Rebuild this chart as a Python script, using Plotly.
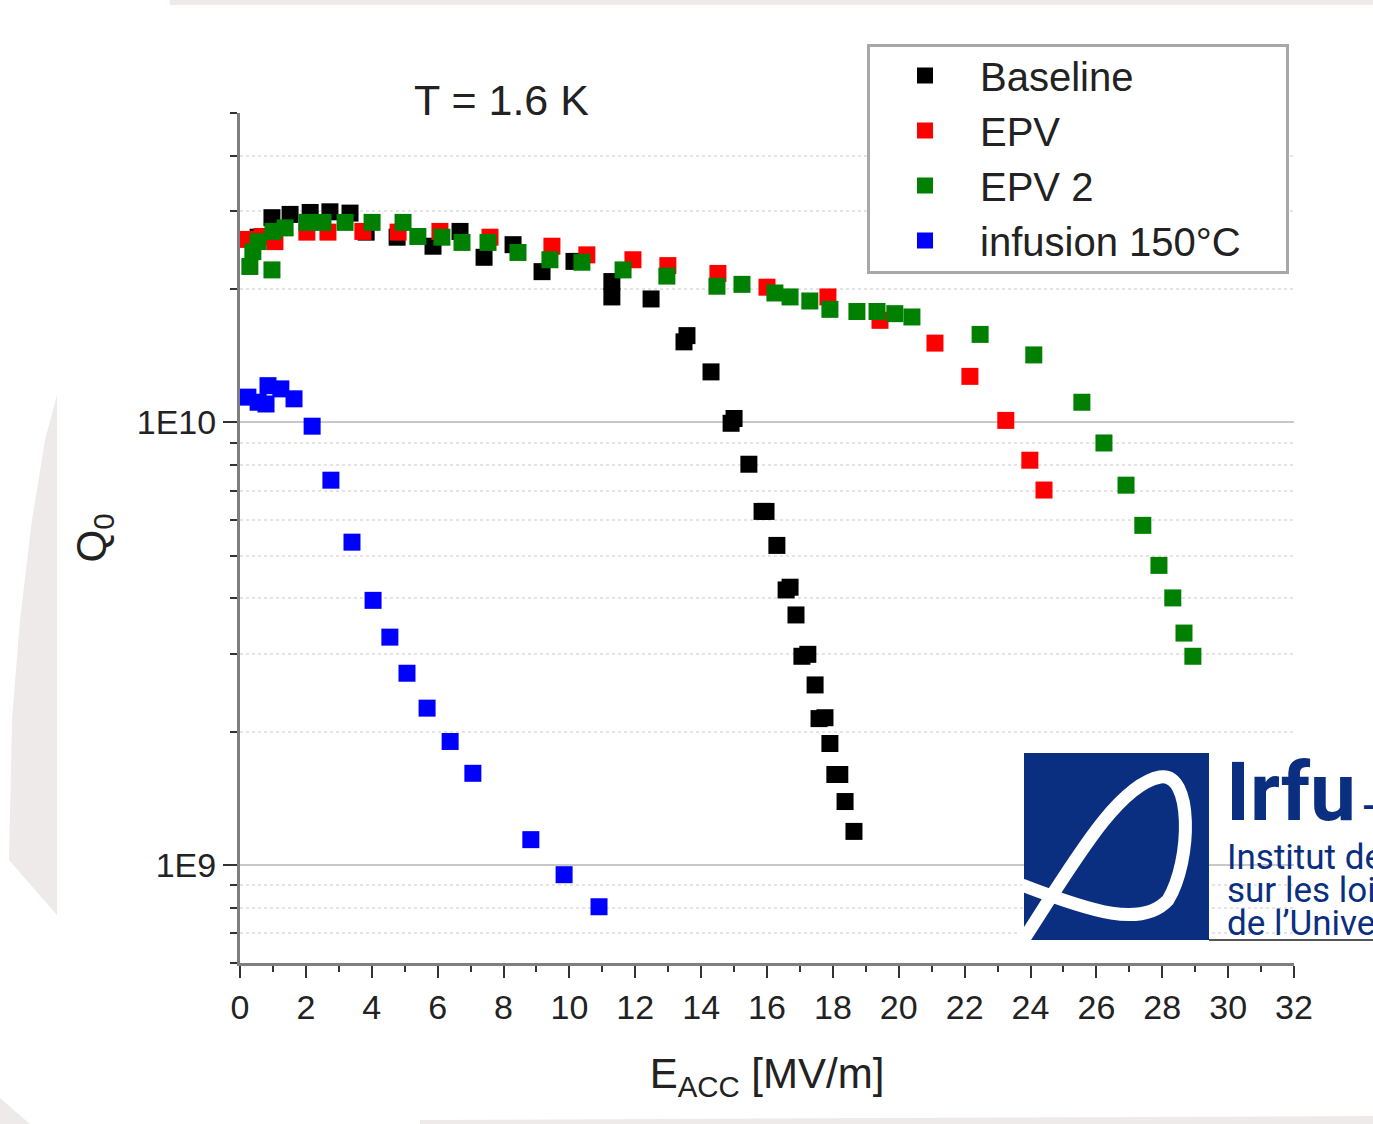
import math
import plotly.graph_objects as go

# ---------------- data ----------------
base_x = [0.55, 0.97, 1.52, 2.13, 2.73, 3.34, 3.83, 4.77, 5.86, 6.68, 7.41, 8.29, 9.17,
          10.14, 11.29, 11.29, 12.48, 13.48, 13.57, 14.30, 14.91, 15.00, 15.45, 15.85,
          15.97, 16.30, 16.58, 16.70, 16.88, 17.06, 17.24, 17.46, 17.58, 17.76, 17.91,
          18.06, 18.21, 18.37, 18.64]
base_q = [2.62e10, 2.90e10, 2.95e10, 2.98e10, 2.99e10, 2.97e10, 2.69e10, 2.62e10, 2.50e10,
          2.70e10, 2.36e10, 2.52e10, 2.19e10, 2.31e10, 2.08e10, 1.92e10, 1.90e10, 1.52e10,
          1.57e10, 1.30e10, 9.95e9, 1.02e10, 8.04e9, 6.29e9, 6.29e9, 5.27e9, 4.18e9, 4.24e9,
          3.67e9, 2.96e9, 2.99e9, 2.55e9, 2.14e9, 2.15e9, 1.88e9, 1.60e9, 1.60e9, 1.39e9,
          1.19e9]

epv_x = [0.24, 0.67, 1.06, 2.03, 2.67, 3.73, 4.80, 6.07, 7.59, 9.47, 10.53, 11.93, 12.99,
         14.51, 16.00, 17.85, 19.43, 21.10, 22.16, 23.25, 23.98, 24.41]
epv_q = [2.59e10, 2.63e10, 2.56e10, 2.69e10, 2.69e10, 2.70e10, 2.69e10, 2.70e10, 2.62e10,
         2.50e10, 2.39e10, 2.33e10, 2.26e10, 2.17e10, 2.02e10, 1.92e10, 1.70e10, 1.51e10,
         1.27e10, 1.01e10, 8.21e9, 7.03e9]

epv2_x = [0.30, 0.39, 0.55, 0.97, 1.00, 1.37, 2.03, 2.52, 3.19, 4.01, 4.95, 5.40, 6.13,
          6.74, 7.53, 8.44, 9.41, 10.38, 11.63, 12.96, 14.48, 15.24, 16.24, 16.70, 17.30,
          17.91, 18.73, 19.34, 19.88, 20.40, 22.47, 24.10, 25.56, 26.23, 26.90, 27.41,
          27.90, 28.32, 28.66, 28.93]
epv2_q = [2.25e10, 2.43e10, 2.56e10, 2.21e10, 2.70e10, 2.75e10, 2.83e10, 2.83e10, 2.83e10,
          2.83e10, 2.83e10, 2.63e10, 2.62e10, 2.55e10, 2.55e10, 2.42e10, 2.33e10, 2.30e10,
          2.21e10, 2.14e10, 2.03e10, 2.05e10, 1.96e10, 1.92e10, 1.88e10, 1.80e10, 1.78e10,
          1.78e10, 1.76e10, 1.73e10, 1.58e10, 1.42e10, 1.11e10, 8.98e9, 7.21e9, 5.85e9,
          4.75e9, 4.01e9, 3.34e9, 2.96e9]

inf_x = [0.24, 0.55, 0.79, 0.85, 1.24, 1.64, 2.19, 2.76, 3.40, 4.04, 4.55, 5.07, 5.68,
         6.38, 7.07, 8.83, 9.84, 10.90]
inf_q = [1.14e10, 1.11e10, 1.10e10, 1.21e10, 1.19e10, 1.13e10, 9.8e9, 7.4e9, 5.36e9,
         3.96e9, 3.27e9, 2.71e9, 2.26e9, 1.90e9, 1.61e9, 1.14e9, 9.5e8, 8.04e8]

series_names = ["Baseline", "EPV", "EPV 2", "infusion 150°C"]
y_major_vals = [1e9, 1e10]
y_major_text = ["1E9", "1E10"]
y_minor_vals = [6e8, 7e8, 8e8, 9e8, 2e9, 3e9, 4e9, 5e9, 6e9, 7e9, 8e9, 9e9,
                2e10, 3e10, 4e10, 5e10]

# ---------------- figure ----------------
W, H = 1373, 1124
L, R, T, B = 240, 1294, 113, 963
FONT = "Liberation Sans, Arial, sans-serif"


def px(x, y):
    return (x - L) / (R - L), (B - y) / (B - T)


fig = go.Figure()
colors = ["#000000", "#ff0000", "#008000", "#0000ff"]
for name, xs, ys, c in zip(series_names, [base_x, epv_x, epv2_x, inf_x],
                           [base_q, epv_q, epv2_q, inf_q], colors):
    fig.add_trace(go.Scatter(x=xs, y=ys, mode="markers", name=name,
                             marker=dict(symbol="square", size=17, color=c,
                                         line=dict(width=0)),
                             cliponaxis=False))

shapes = []


def path_from(points, close=True):
    s = ""
    for i, (x, y) in enumerate(points):
        a, b = px(x, y)
        s += ("M" if i == 0 else "L") + f"{a:.5f},{b:.5f} "
    return s + ("Z" if close else "")


# slide background pieces (light grey)
bg = "#efeaea"
shapes.append(dict(type="path", xref="paper", yref="paper", layer="below",
                   path=path_from([(170, 0), (1373, 0), (1373, 5), (170, 5)]),
                   fillcolor=bg, line=dict(width=0)))
shapes.append(dict(type="path", xref="paper", yref="paper", layer="below",
                   path=path_from([(57, 395), (45, 440), (32, 520), (20, 620), (12, 720),
                                   (9, 860), (57, 915)]),
                   fillcolor=bg, line=dict(width=0)))
shapes.append(dict(type="path", xref="paper", yref="paper", layer="below",
                   path=path_from([(0, 1098), (30, 1124), (0, 1124)]),
                   fillcolor=bg, line=dict(width=0)))
shapes.append(dict(type="path", xref="paper", yref="paper", layer="below",
                   path=path_from([(420, 1120), (1373, 1116), (1373, 1124), (420, 1124)]),
                   fillcolor=bg, line=dict(width=0)))

# legend frame
shapes.append(dict(type="path", xref="paper", yref="paper", layer="above",
                   path=path_from([(868.5, 45.5), (1287.5, 45.5), (1287.5, 272.5),
                                   (868.5, 272.5)]),
                   fillcolor="white", line=dict(color="#a8a8a8", width=3)))

# Irfu logo
navy = "#0b2f80"
shapes.append(dict(type="path", xref="paper", yref="paper", layer="above",
                   path=path_from([(1024, 753), (1209, 753), (1209, 940), (1024, 940)]),
                   fillcolor=navy, line=dict(width=0)))
shapes.append(dict(type="path", xref="paper", yref="paper", layer="above",
                   path=path_from([(1209, 939), (1373, 939), (1373, 941), (1209, 941)]),
                   fillcolor="#555555", line=dict(width=0)))


def curve(pts):
    a = [px(x, y) for x, y in pts]
    s = f"M{a[0][0]:.5f},{a[0][1]:.5f} "
    for i in range(1, len(a), 3):
        s += "C" + " ".join(f"{p[0]:.5f},{p[1]:.5f}" for p in a[i:i + 3]) + " "
    return s


shapes.append(dict(type="path", xref="paper", yref="paper", layer="above",
                   path=curve([(1022, 942), (1075, 860), (1118, 785), (1160, 777),
                               (1193, 771), (1192, 860), (1168, 900),
                               (1142, 928), (1092, 912), (1022, 885)]),
                   line=dict(color="white", width=13)))

annotations = []
annotations.append(dict(text="T = 1.6 K", x=px(501, 0)[0], y=px(0, 100)[1],
                        xref="paper", yref="paper", showarrow=False,
                        font=dict(family=FONT, size=43, color="#222222"),
                        xanchor="center", yanchor="middle"))
logo_font = "Liberation Sans Narrow, Roboto, sans-serif"
annotations.append(dict(text="<b>Irfu</b>", x=px(1224, 0)[0], y=px(0, 792)[1],
                        xref="paper", yref="paper", showarrow=False, xanchor="left",
                        yanchor="middle", font=dict(family=logo_font, size=82, color=navy)))
annotations.append(dict(text="<b>-</b>", x=px(1360, 0)[0], y=px(0, 805)[1],
                        xref="paper", yref="paper", showarrow=False, xanchor="left",
                        yanchor="middle", font=dict(family=logo_font, size=34, color=navy)))
for txt, yy in [("Institut de", 857), ("sur les lois", 890), ("de l’Unive", 923)]:
    annotations.append(dict(text=txt, x=px(1225, 0)[0], y=px(0, yy)[1],
                            xref="paper", yref="paper", showarrow=False, xanchor="left",
                            yanchor="middle",
                            font=dict(family=logo_font, size=35, color=navy)))

fig.update_layout(
    width=W, height=H,
    margin=dict(l=L, r=W - R, t=T, b=H - B, autoexpand=False),
    paper_bgcolor="white", plot_bgcolor="rgba(0,0,0,0)",
    font=dict(family=FONT, color="#222222"),
    showlegend=True,
    legend=dict(x=px(870, 0)[0], y=px(0, 43)[1], xanchor="left", yanchor="top",
                bgcolor="rgba(0,0,0,0)", borderwidth=0,
                font=dict(family=FONT, size=40, color="#222222"),
                itemwidth=100, tracegroupgap=0),
    shapes=shapes, annotations=annotations,
)

fig.update_xaxes(
    range=[0, 32], tick0=0, dtick=2, ticks="outside", ticklen=12, tickwidth=2,
    tickcolor="#333333", showline=True, linecolor="#7f7f7f", linewidth=3,
    showgrid=False, zeroline=False,
    tickfont=dict(family=FONT, size=34, color="#222222"),
    minor=dict(dtick=1, ticks="outside", ticklen=6, tickwidth=2, tickcolor="#333333",
               showgrid=False),
    title=dict(text="E<sub>ACC</sub> [MV/m]", font=dict(family=FONT, size=42, color="#222222"),
               standoff=34),
    automargin=False,
)
fig.update_yaxes(
    type="log", range=[math.log10(6e8), math.log10(5e10)],
    tickmode="array", tickvals=y_major_vals, ticktext=y_major_text,
    ticks="outside", ticklen=14, tickwidth=2, tickcolor="#333333",
    showline=True, linecolor="#7f7f7f", linewidth=3,
    showgrid=True, gridcolor="#c8c8c8", gridwidth=2, zeroline=False,
    tickfont=dict(family=FONT, size=34, color="#222222"),
    minor=dict(tickmode="array", tickvals=y_minor_vals, ticks="outside", ticklen=7,
               tickwidth=2, tickcolor="#333333", showgrid=True, gridcolor="#e4e4e4",
               griddash="dot", gridwidth=2),
    title=dict(text="Q<sub>0</sub>", font=dict(family=FONT, size=42, color="#222222"),
               standoff=18),
    automargin=False,
)

fig.write_html("out.html", config={"displayModeBar": False},
               post_script="document.body.style.margin='0';document.body.style.overflow='hidden';")
